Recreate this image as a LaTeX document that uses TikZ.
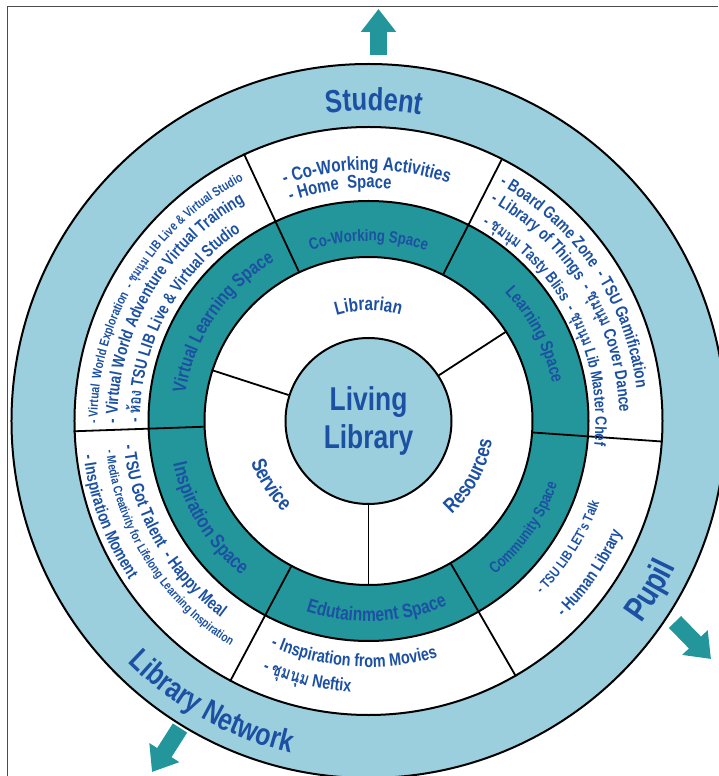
\documentclass[tikz,border=0pt]{standalone}
\usepackage{fontspec}
\setmainfont{Liberation Sans}[FakeStretch=0.8]
\newfontfamily\thaifont[Script=Thai,FakeStretch=0.8]{Loma}
\usepackage{tikz}
\usetikzlibrary{arrows.meta}

\definecolor{skyband}{RGB}{155,207,221}
\definecolor{zoneteal}{RGB}{35,150,156}
\definecolor{ink}{RGB}{28,80,162}

\newcommand\ringfont[1]{\fontsize{#1}{#1}\selectfont\bfseries}
\newcommand\thaiclub{\mbox{\thaifont ชุมนุม}}
\newcommand\thairoom{\mbox{\thaifont ห้อง}}

\newcounter{glyph}
\newcommand\ringglyph[5]{\stepcounter{glyph}%
  \node[ringchar,rotate=#3,font=\ringfont{#4}] (g\arabic{glyph}) at (#1:#2) {#5};}

% letters set one by one along an arc: radius, start (or centre) angle,
% direction (1 = counter-clockwise, -1 = clockwise), size, text (~ for spaces)
\ExplSyntaxOn
\dim_new:N \l_ring_pos_dim
\dim_new:N \l_ring_wd_dim
\tl_new:N \l_ring_ang_tl
\tl_new:N \l_ring_rot_tl
\tl_new:N \l_ring_start_tl
\cs_new_protected:Npn \ring_width:nn #1#2
  {
    \hbox_set:Nn \l_tmpa_box
      { \pgfinterruptpicture \ringfont{#1} #2 \endpgfinterruptpicture }
    \dim_set:Nn \l_ring_wd_dim { \box_wd:N \l_tmpa_box }
  }
\cs_new_protected:Npn \ringtext #1#2#3#4#5
  {
    \dim_zero:N \l_ring_pos_dim
    \tl_map_inline:nn {#5}
      {
        \ring_width:nn {#4} {##1}
        \tl_set:Nx \l_ring_ang_tl
          { \fp_eval:n { round( (#2) + (#3) * \dim_to_fp:n { \l_ring_pos_dim + \l_ring_wd_dim / 2 } / (#1) * 180 / pi , 4) } }
        \tl_set:Nx \l_ring_rot_tl { \fp_eval:n { \l_ring_ang_tl + 90 * (#3) } }
        \ringglyph { \l_ring_ang_tl } {#1} { \l_ring_rot_tl } {#4} {##1}
        \dim_add:Nn \l_ring_pos_dim { \l_ring_wd_dim }
      }
  }
\cs_new_protected:Npn \ringtextc #1#2#3#4#5
  {
    \ring_width:nn {#4} {#5}
    \tl_set:Nx \l_ring_start_tl
      { \fp_eval:n { round( (#2) - (#3) * \dim_to_fp:n { \l_ring_wd_dim } / 2 / (#1) * 180 / pi , 4) } }
    \ringtext {#1} { \l_ring_start_tl } {#3} {#4} {#5}
  }
\ExplSyntaxOff

\tikzset{
  ring/.style={circle,draw=black,line width=2pt,inner sep=0pt},
  ringchar/.style={inner sep=0pt,outer sep=0pt,anchor=base,text=ink},
  divider/.style={line width=1.8pt},
  bigarrow/.style={line width=17pt,draw=zoneteal,-{Triangle[length=23pt,width=34pt]}},
}

\begin{document}
\begin{tikzpicture}[x=1pt,y=1pt]
\useasboundingbox (-368.5,-355) rectangle (349.5,421);
\coordinate (frameB) at (-360.5,-355);
\coordinate (frameT) at (349.5,414);
\draw[gray!60!black,line width=1pt] (frameB) |- (frameT);

  \node[ring,fill=skyband,minimum size=714pt]   (band)  at (0,0) {};
  \node[ring,fill=white,minimum size=588pt]     (actv)  at (0,0) {};
  \node[ring,fill=zoneteal,minimum size=440pt]  (zones) at (0,0) {};
  \node[ring,fill=white,minimum size=328pt]     (roles) at (0,0) {};
  \node[ring,fill=skyband,minimum size=166pt,align=center,text=ink,
        font=\fontsize{33}{38}\selectfont\bfseries] (core) at (0,0) {Living\\Library};

  \foreach \a in {63,115,182,242,300,356}
    \draw[divider] (roles.\a) -- (actv.\a);
  \foreach \a in {33,162,270}
    \draw[divider] (core.\a) -- (roles.\a);

  \coordinate (upT) at (10,366);        \coordinate (upH) at (10,412);
  \coordinate (rtT) at (306.5,-201);    \coordinate (rtH) at (342.5,-238);
  \coordinate (lfT) at (-188.5,-307);   \coordinate (lfH) at (-216.5,-351);
  \draw[bigarrow] (upT) -- (upH);
  \draw[bigarrow] (rtT) -- (rtH);
  \draw[bigarrow] (lfT) -- (lfH);

  \ringtextc{310.5}{89}{-1}{32}{Student}
  \ringtextc{340}{-31}{1}{34}{Pupil}
  \ringtextc{341}{241}{1}{31}{Library~Network}

  \ringtextc{180}{90}{-1}{16.5}{Co-Working~Space}
  \ringtextc{187.5}{27.5}{-1}{17.5}{Learning~Space}
  \ringtextc{199}{-34.5}{1}{16}{Community~Space}
  \ringtextc{200.5}{272.5}{1}{19.5}{Edutainment~Space}
  \ringtextc{200}{211.5}{1}{20}{Inspiration~Space}
  \ringtextc{185}{146}{-1}{19}{Virtual~Learning~Space}

  \ringtextc{110.5}{90}{-1}{19}{Librarian}
  \ringtextc{124.5}{213}{1}{21}{Service}
  \ringtextc{125}{-28.5}{1}{21}{Resources}

  \ringtext{251}{109.5}{-1}{19}{-~Co-Working~Activities}
  \ringtext{233}{109.5}{-1}{18.5}{-~Home~~Space}

  \ringtext{271}{180.5}{-1}{13}{-~Virtual~~World~Exploration~~-~\thaiclub~LIB~Live~\&~Virtual~Studio}
  \ringtext{251}{180.5}{-1}{17}{-~Virtual~World~Adventure~Virtual~Training}
  \ringtext{228.5}{180.5}{-1}{17}{-~\thairoom~TSU~LIB~Live~\&~Virtual~Studio}

  \ringtext{270}{61}{-1}{17}{-~Board~Game~Zone~~-~TSU~Gamification}
  \ringtext{251}{61}{-1}{17}{-~Library~of~Things~~-~\thaiclub~Cover~Dance}
  \ringtext{227}{60}{-1}{16}{-~\thaiclub~Tasty~Bliss~~-~\thaiclub~Lib~Master~Chef}

  \ringtext{245}{-45}{1}{14}{-~TSU~LIB~LET's~Talk}
  \ringtext{277}{-45.3}{1}{17}{-~Human~Library}

  \ringtext{246}{246.5}{1}{18}{-~Inspiration~from~Movies}
  \ringtext{271.5}{247}{1}{18}{-~\thaiclub~Neftix}

  \ringtext{246}{185.7}{1}{17.5}{-~TSU~Got~Talent~~-~Happy~Meal}
  \ringtext{264}{186.5}{1}{12.5}{-~Media~Creativity~for~Lifelong~Learning~Inspiration}
  \ringtext{287}{186.9}{1}{17}{-~Inspiration~Moment}
\end{tikzpicture}
\end{document}
